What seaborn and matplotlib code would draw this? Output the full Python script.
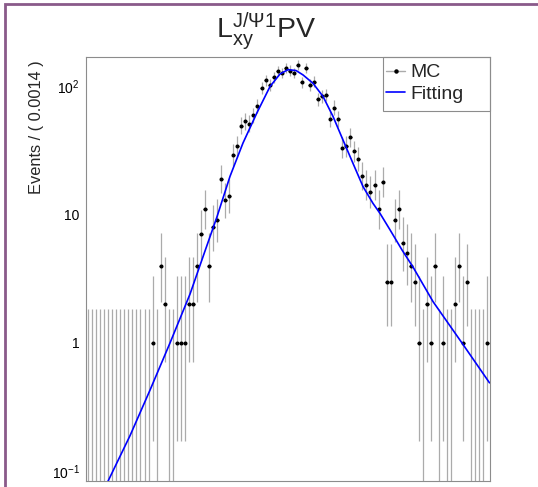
import math
import numpy as np
import pandas as pd
import matplotlib
matplotlib.use("Agg")
import matplotlib.pyplot as plt
from matplotlib.patches import Rectangle
from matplotlib.lines import Line2D
from matplotlib.ticker import FixedLocator, NullFormatter, LogLocator, MultipleLocator
import seaborn as sns

# ---------------- data ----------------
x_min, x_max, n_bins = -0.07, 0.07, 100
counts = [0] * 16 + [
    1, 0, 4, 2, 0, 0, 1, 1, 1, 2,
    2, 4, 7, 11, 4, 8, 9, 19, 13, 14,
    29, 34, 49, 53, 51, 59, 70, 96, 111, 102,
    117, 131, 126, 139, 132, 126, 146, 107, 139, 102,
    108, 79, 83, 85, 55, 68, 55, 33, 34, 40,
    31, 27, 20, 17, 15, 17, 11, 18, 3, 3,
    9, 11, 6, 5, 4, 3, 1, 0, 2, 1,
    4, 0, 1, 0, 0, 2, 4, 1, 3, 0,
    0, 0, 0, 1,
]
fit_x = [-0.06514, -0.06237, -0.05473, -0.04779, -0.04086, -0.03392, -0.02871,
         -0.02455, -0.02004, -0.01553, -0.01067, -0.00616, -0.00269, 0.00009,
         0.00286, 0.00529, 0.00876, 0.01223, 0.01570, 0.01917, 0.02264,
         0.02611, 0.02958, 0.03201, 0.03548, 0.03964, 0.04346, 0.05040,
         0.06046, 0.07]
fit_y = [0.058, 0.084, 0.19, 0.43, 1.0, 2.4, 5.2,
         9.6, 19.8, 36, 62, 99, 124, 134,
         132, 122, 105, 83, 58, 38, 25,
         16.5, 12.2, 10.2, 7.6, 5.3, 3.9, 2.1,
         1.0, 0.49]
title_text = r"$\mathregular{L_{xy}^{J/\Psi1}PV}$"
ylabel_text = "Events / ( 0.0014 )"
legend_labels = ["MC", "Fitting"]
ytick_vals = [0.1, 1, 10, 100]
ytick_labels = [r"$\mathregular{10^{-1}}$", "1", "10", r"$\mathregular{10^{2}}$"]


# ---------------- Poisson (68.27%) intervals ----------------
def pois_cdf(n, mu):
    if n < 0:
        return 0.0
    s = 0.0
    for k in range(n + 1):
        s += math.exp(-mu + k * math.log(mu) - math.lgamma(k + 1))
    return s


def solve(f, target, lo, hi):
    for _ in range(200):
        mid = 0.5 * (lo + hi)
        if f(mid) > target:
            lo = mid
        else:
            hi = mid
    return 0.5 * (lo + hi)


alpha = 0.158655
lows, highs = [], []
for n in counts:
    up = solve(lambda m: pois_cdf(n, m), alpha, 1e-9, n + 20 * math.sqrt(n + 1) + 10)
    lo = 0.0 if n == 0 else solve(lambda m: pois_cdf(n - 1, m), 1 - alpha, 1e-9, n + 10)
    lows.append(lo)
    highs.append(up)

edges = np.linspace(x_min, x_max, n_bins + 1)
centers = 0.5 * (edges[:-1] + edges[1:])
half_w = 0.5 * (edges[1] - edges[0])
df = pd.DataFrame({"x": centers, "n": counts, "lo": lows, "hi": highs})

# ---------------- style ----------------
sns.set_theme(style="white")
plt.rcParams["font.family"] = ["Liberation Sans", "DejaVu Sans"]
plt.rcParams["mathtext.fontset"] = "custom"
plt.rcParams["mathtext.rm"] = "Liberation Sans"
plt.rcParams["mathtext.it"] = "Liberation Sans:italic"
plt.rcParams["mathtext.bf"] = "Liberation Sans:bold"

W, H = 538, 487
fig = plt.figure(figsize=(W / 100, H / 100), dpi=100)
fig.patch.set_facecolor("white")
ax_l, ax_r, ax_t, ax_b = 86, 489.5, 57, 481
ax = fig.add_axes([ax_l / W, 1 - ax_b / H, (ax_r - ax_l) / W, (ax_b - ax_t) / H])
ax.set_facecolor("white")

# canvas frame
fig.patches.append(Rectangle((5 / W, -0.1), 1.2, 1 - 4 / H + 0.1, transform=fig.transFigure,
                             fill=False, edgecolor="#8a5a8a", linewidth=2.0, zorder=0))

err_col = "#ababab"
nz = df[df.n > 0]
zr = df[df.n == 0]
ax.errorbar(nz.x, nz.n, yerr=[nz.n - nz.lo, nz.hi - nz.n], fmt="none",
            ecolor=err_col, elinewidth=0.9, capsize=0, zorder=2)
ax.errorbar(nz.x, nz.n, xerr=half_w * 0.8, fmt="none",
            ecolor="#333333", elinewidth=0.9, capsize=0, zorder=2)
ax.vlines(zr.x, 1e-4, zr.hi, colors=err_col, linewidth=0.9, zorder=2)
ax.plot(nz.x, nz.n, "o", color="black", ms=1.9, zorder=3)

sns.lineplot(x=fit_x, y=fit_y, color="#0000ff", linewidth=1.2, ax=ax, legend=False,
             sort=False, zorder=4)

ax.set_yscale("log")
ax.set_xlim(x_min, x_max)
ax.set_ylim(10 ** ((343 - 481) / 128.5), 10 ** ((343 - 57) / 128.5))
ax.yaxis.set_major_locator(FixedLocator(ytick_vals))
ax.set_yticklabels(ytick_labels)
ax.yaxis.set_minor_locator(LogLocator(base=10, subs=np.arange(2, 10)))
ax.yaxis.set_minor_formatter(NullFormatter())
ax.xaxis.set_major_locator(FixedLocator([-0.05, -0.03, -0.01, 0.01, 0.03, 0.05]))
ax.xaxis.set_minor_locator(MultipleLocator(0.005))

tick_col = "#8c8c8c"
ax.tick_params(axis="y", which="major", direction="in", length=10, width=0.8, color=tick_col,
               labelsize=10, pad=4.5, labelcolor="black")
ax.tick_params(axis="y", which="minor", direction="in", length=5, width=0.8, color=tick_col)
ax.tick_params(axis="x", which="major", direction="in", length=7, width=0.8, color=tick_col,
               labelbottom=False)
ax.tick_params(axis="x", which="minor", direction="in", length=3.6, width=0.8, color=tick_col)
for s in ax.spines.values():
    s.set_color("#8c8c8c")
    s.set_linewidth(0.8)
ax.set_xlabel("")
ax.set_ylabel("")

# title and y label
fig.text(266 / W, 1 - 37 / H, title_text, ha="center", va="baseline", fontsize=20.5)
fig.text(36.5 / W, 1 - 60 / H, ylabel_text, rotation=90, ha="center", va="top", fontsize=11.8)

# legend
handles = [Line2D([], [], color=err_col, lw=1.0, marker="o", ms=2.2, mfc="black", mec="black"),
           Line2D([], [], color="#0000ff", lw=1.2)]
leg = ax.legend(handles, legend_labels, loc="upper left", bbox_to_anchor=(0.719, 1.007),
                frameon=False, fontsize=14, handlelength=1.0, handletextpad=0.25,
                borderpad=0, labelspacing=0.2)
ax.add_patch(Rectangle(((383 - ax_l) / (ax_r - ax_l), (ax_b - 111) / (ax_b - ax_t)),
                       (ax_r - 383) / (ax_r - ax_l), (111 - ax_t) / (ax_b - ax_t),
                       transform=ax.transAxes, fill=False, edgecolor="#8c8c8c",
                       linewidth=0.8, zorder=5, clip_on=False))

fig.savefig("out.png", dpi=100, facecolor="white")
